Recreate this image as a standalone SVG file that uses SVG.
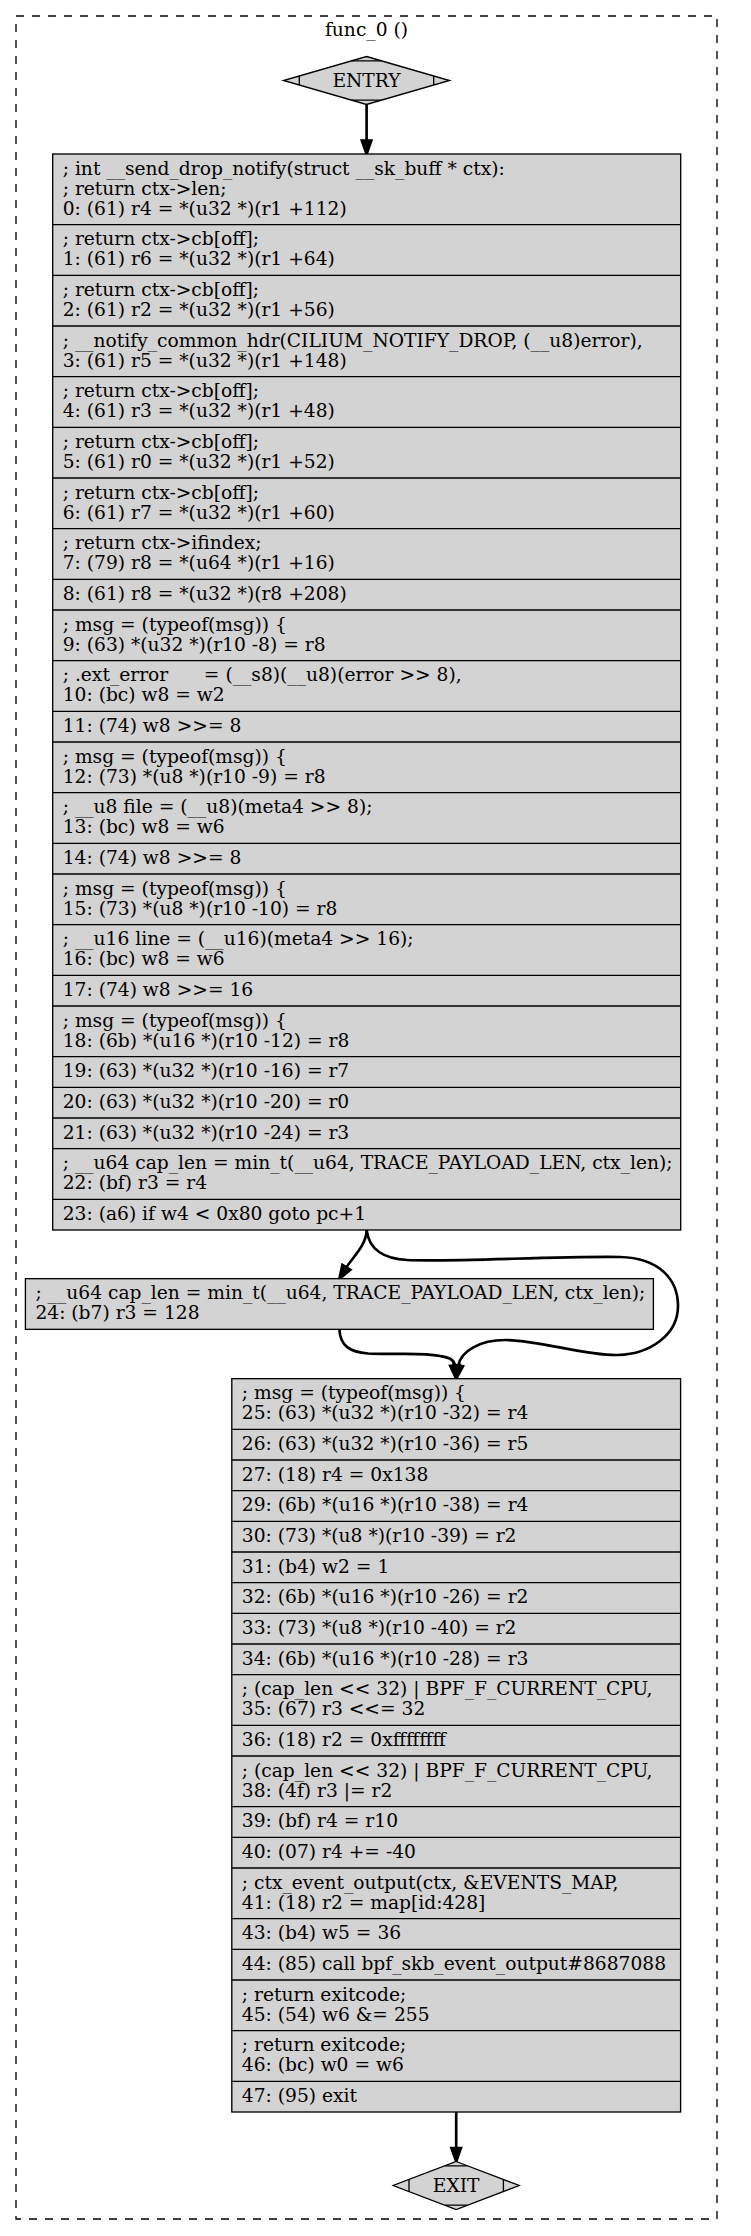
<svg xmlns="http://www.w3.org/2000/svg" width="751" height="2236" viewBox="0 0 751 2236">
<style>
text{font-family:"DejaVu Serif","Liberation Serif",serif;font-size:18.67px;fill:#000}
.c{text-anchor:middle}
.blk{fill:#d3d3d3;stroke:#000;stroke-width:1.33}
.sep{stroke:#000;stroke-width:1.33;fill:none}
.e{fill:none;stroke:#000;stroke-width:2.67}
.ah{fill:#000;stroke:#000;stroke-width:2.67}
</style>
<rect width="751" height="2236" fill="#fff"/>
<g id="cluster_func_0">
<rect x="16" y="16" width="701" height="2203" fill="none" stroke="#000" stroke-width="1.33" stroke-dasharray="8,8"/>
<text class="c" x="366.5" y="35.5">func_0 ()</text>
</g>
<g id="connectors">
<path class="e" d="M366.6,104.5 L366.6,140.7"/>
<polygon class="ah" points="361.9,140.7 366.6,154 371.3,140.7"/>
<path class="e" d="M366.6,1230 C366.6,1245 352.5,1257.5 346.4,1267.4"/>
<polygon class="ah" points="350.4,1269.8 339.4,1278.7 342.4,1264.9"/>
<path class="e" d="M366.6,1230 C369,1250 385,1259 407,1260 C450,1262 560,1256 620,1257 C660,1258 678,1280 678,1306 C678,1335 650,1354 618,1355 C585,1356 540,1340 505,1340 C480,1340 461,1351 458.3,1365.5"/>
<polygon class="ah" points="462.9,1366.3 456.2,1378.7 453.7,1364.8"/>
<path class="e" d="M339.4,1329.3 C340,1346 350,1352 368,1353.5 C395,1355 420,1352 440,1356 C447,1357.4 453.6,1358 454.9,1365.5"/>
<polygon class="ah" points="459.5,1365 456.2,1378.7 450.2,1366"/>
<path class="e" d="M456.2,2112 L456.2,2148.2"/>
<polygon class="ah" points="451.5,2148.2 456.2,2161.5 460.9,2148.2"/>
</g>
<g id="entry">
<polygon class="blk" points="366.5,56.5 449.5,80.5 366.5,104.5 283.5,80.5"/>
<path class="sep" d="M351.6,60.8 L381.4,60.8 M351.6,100.2 L381.4,100.2 M299.3,75.9 L299.3,85.1 M433.7,75.9 L433.7,85.1"/>
<text class="c" x="366.5" y="86.5">ENTRY</text>
</g>
<g id="block_0_23">
<rect class="blk" x="52.7" y="154" width="628" height="1076"/>
<path class="sep" d="M52.7,224.67H680.7M52.7,275.33H680.7M52.7,326H680.7M52.7,376.67H680.7M52.7,427.33H680.7M52.7,478H680.7M52.7,528.67H680.7M52.7,579.33H680.7M52.7,610H680.7M52.7,660.67H680.7M52.7,711.33H680.7M52.7,742H680.7M52.7,792.67H680.7M52.7,843.33H680.7M52.7,874H680.7M52.7,924.67H680.7M52.7,975.33H680.7M52.7,1006H680.7M52.7,1056.67H680.7M52.7,1087.33H680.7M52.7,1118H680.7M52.7,1148.67H680.7M52.7,1199.33H680.7"/>
<text x="62.7" y="174.7">; int __send_drop_notify(struct __sk_buff * ctx):<tspan x="62.7" dy="20">; return ctx-&gt;len;</tspan><tspan x="62.7" dy="20">0: (61) r4 = *(u32 *)(r1 +112)</tspan></text>
<text x="62.7" y="245.4">; return ctx-&gt;cb[off];<tspan x="62.7" dy="20">1: (61) r6 = *(u32 *)(r1 +64)</tspan></text>
<text x="62.7" y="296">; return ctx-&gt;cb[off];<tspan x="62.7" dy="20">2: (61) r2 = *(u32 *)(r1 +56)</tspan></text>
<text x="62.7" y="346.7">; __notify_common_hdr(CILIUM_NOTIFY_DROP, (__u8)error),<tspan x="62.7" dy="20">3: (61) r5 = *(u32 *)(r1 +148)</tspan></text>
<text x="62.7" y="397.4">; return ctx-&gt;cb[off];<tspan x="62.7" dy="20">4: (61) r3 = *(u32 *)(r1 +48)</tspan></text>
<text x="62.7" y="448">; return ctx-&gt;cb[off];<tspan x="62.7" dy="20">5: (61) r0 = *(u32 *)(r1 +52)</tspan></text>
<text x="62.7" y="498.7">; return ctx-&gt;cb[off];<tspan x="62.7" dy="20">6: (61) r7 = *(u32 *)(r1 +60)</tspan></text>
<text x="62.7" y="549.4">; return ctx-&gt;ifindex;<tspan x="62.7" dy="20">7: (79) r8 = *(u64 *)(r1 +16)</tspan></text>
<text x="62.7" y="600">8: (61) r8 = *(u32 *)(r8 +208)</text>
<text x="62.7" y="630.7">; msg = (typeof(msg)) {<tspan x="62.7" dy="20">9: (63) *(u32 *)(r10 -8) = r8</tspan></text>
<text x="62.7" y="681.4" xml:space="preserve" style="white-space:pre">; .ext_error      = (__s8)(__u8)(error &gt;&gt; 8),<tspan x="62.7" dy="20">10: (bc) w8 = w2</tspan></text>
<text x="62.7" y="732">11: (74) w8 &gt;&gt;= 8</text>
<text x="62.7" y="762.7">; msg = (typeof(msg)) {<tspan x="62.7" dy="20">12: (73) *(u8 *)(r10 -9) = r8</tspan></text>
<text x="62.7" y="813.4">; __u8 file = (__u8)(meta4 &gt;&gt; 8);<tspan x="62.7" dy="20">13: (bc) w8 = w6</tspan></text>
<text x="62.7" y="864">14: (74) w8 &gt;&gt;= 8</text>
<text x="62.7" y="894.7">; msg = (typeof(msg)) {<tspan x="62.7" dy="20">15: (73) *(u8 *)(r10 -10) = r8</tspan></text>
<text x="62.7" y="945.4">; __u16 line = (__u16)(meta4 &gt;&gt; 16);<tspan x="62.7" dy="20">16: (bc) w8 = w6</tspan></text>
<text x="62.7" y="996">17: (74) w8 &gt;&gt;= 16</text>
<text x="62.7" y="1026.7">; msg = (typeof(msg)) {<tspan x="62.7" dy="20">18: (6b) *(u16 *)(r10 -12) = r8</tspan></text>
<text x="62.7" y="1077.4">19: (63) *(u32 *)(r10 -16) = r7</text>
<text x="62.7" y="1108">20: (63) *(u32 *)(r10 -20) = r0</text>
<text x="62.7" y="1138.7">21: (63) *(u32 *)(r10 -24) = r3</text>
<text x="62.7" y="1169.4">; __u64 cap_len = min_t(__u64, TRACE_PAYLOAD_LEN, ctx_len);<tspan x="62.7" dy="20">22: (bf) r3 = r4</tspan></text>
<text x="62.7" y="1220">23: (a6) if w4 &lt; 0x80 goto pc+1</text>
</g>
<g id="block_24">
<rect class="blk" x="25.4" y="1278.67" width="628" height="50.67"/>
<text x="35.4" y="1299.4">; __u64 cap_len = min_t(__u64, TRACE_PAYLOAD_LEN, ctx_len);<tspan x="35.4" dy="20">24: (b7) r3 = 128</tspan></text>
</g>
<g id="block_25_47">
<rect class="blk" x="231.8" y="1378.67" width="448.8" height="733.33"/>
<path class="sep" d="M231.8,1429.33H680.6M231.8,1460H680.6M231.8,1490.67H680.6M231.8,1521.33H680.6M231.8,1552H680.6M231.8,1582.67H680.6M231.8,1613.33H680.6M231.8,1644H680.6M231.8,1674.67H680.6M231.8,1725.33H680.6M231.8,1756H680.6M231.8,1806.67H680.6M231.8,1837.33H680.6M231.8,1868H680.6M231.8,1918.67H680.6M231.8,1949.33H680.6M231.8,1980H680.6M231.8,2030.67H680.6M231.8,2081.33H680.6"/>
<text x="241.8" y="1399.4">; msg = (typeof(msg)) {<tspan x="241.8" dy="20">25: (63) *(u32 *)(r10 -32) = r4</tspan></text>
<text x="241.8" y="1450">26: (63) *(u32 *)(r10 -36) = r5</text>
<text x="241.8" y="1480.7">27: (18) r4 = 0x138</text>
<text x="241.8" y="1511.4">29: (6b) *(u16 *)(r10 -38) = r4</text>
<text x="241.8" y="1542">30: (73) *(u8 *)(r10 -39) = r2</text>
<text x="241.8" y="1572.7">31: (b4) w2 = 1</text>
<text x="241.8" y="1603.4">32: (6b) *(u16 *)(r10 -26) = r2</text>
<text x="241.8" y="1634">33: (73) *(u8 *)(r10 -40) = r2</text>
<text x="241.8" y="1664.7">34: (6b) *(u16 *)(r10 -28) = r3</text>
<text x="241.8" y="1695.4">; (cap_len &lt;&lt; 32) | BPF_F_CURRENT_CPU,<tspan x="241.8" dy="20">35: (67) r3 &lt;&lt;= 32</tspan></text>
<text x="241.8" y="1746">36: (18) r2 = 0xffffffff</text>
<text x="241.8" y="1776.7">; (cap_len &lt;&lt; 32) | BPF_F_CURRENT_CPU,<tspan x="241.8" dy="20">38: (4f) r3 |= r2</tspan></text>
<text x="241.8" y="1827.4">39: (bf) r4 = r10</text>
<text x="241.8" y="1858">40: (07) r4 += -40</text>
<text x="241.8" y="1888.7">; ctx_event_output(ctx, &amp;EVENTS_MAP,<tspan x="241.8" dy="20">41: (18) r2 = map[id:428]</tspan></text>
<text x="241.8" y="1939.4">43: (b4) w5 = 36</text>
<text x="241.8" y="1970">44: (85) call bpf_skb_event_output#8687088</text>
<text x="241.8" y="2000.7">; return exitcode;<tspan x="241.8" dy="20">45: (54) w6 &amp;= 255</tspan></text>
<text x="241.8" y="2051.4">; return exitcode;<tspan x="241.8" dy="20">46: (bc) w0 = w6</tspan></text>
<text x="241.8" y="2102">47: (95) exit</text>
</g>
<g id="exit">
<polygon class="blk" points="456.2,2161.5 519.2,2185.5 456.2,2209.5 393.2,2185.5"/>
<path class="sep" d="M444.9,2165.8 L467.5,2165.8 M444.9,2205.2 L467.5,2205.2 M409,2179.5 L409,2191.5 M503.4,2179.5 L503.4,2191.5"/>
<text class="c" x="456.2" y="2191.5">EXIT</text>
</g>
</svg>
